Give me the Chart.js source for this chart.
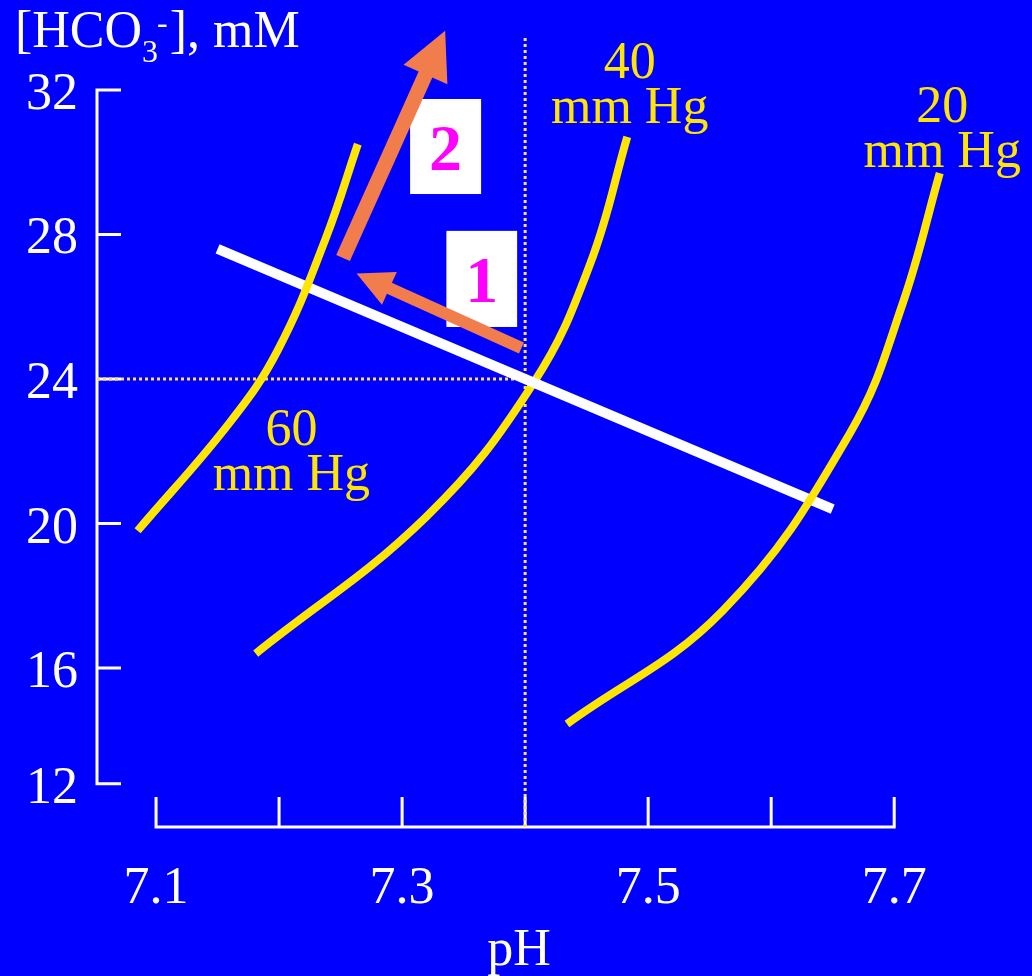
<!DOCTYPE html>
<html>
<head>
<meta charset="utf-8">
<script src="https://cdn.jsdelivr.net/npm/chart.js@4/dist/chart.umd.min.js"></script>
<style>
  html, body { margin: 0; padding: 0; background: #0000FF; overflow: hidden; }
  canvas { display: block; }
</style>
</head>
<body>
<canvas id="c" width="1032" height="976"></canvas>
<script>
// PCO2 isobars: pH (x) against plasma [HCO3-] in mM (y)
const iso60pH   = [7.085, 7.160, 7.199, 7.238, 7.264];
const iso60HCO3 = [19.8, 22.8, 24.8, 27.9, 30.5];
const iso40pH   = [7.181, 7.320, 7.407, 7.453, 7.483];
const iso40HCO3 = [16.4, 20.2, 23.9, 27.2, 30.7];
const iso20pH   = [7.434, 7.561, 7.664, 7.707, 7.737];
const iso20HCO3 = [14.45, 17.6, 22.5, 26.1, 29.7];

// Blood buffer line
const bufferPH   = [7.15, 7.65];
const bufferHCO3 = [27.6, 20.4];

// Normal point (pH 7.4, 24 mM)
const normalPH = 7.4;
const normalHCO3 = 24;

// Compensation steps: [tail pH, tail HCO3, tip pH, tip HCO3]
const step1 = [7.397, 24.86, 7.263, 26.92];
const step2 = [7.252, 27.35, 7.335, 33.64];
const stepLabels = ['1', '2'];
// label boxes: [left pH, right pH, top HCO3, bottom HCO3]
const step1Box = [7.336, 7.3935, 28.10, 25.44];
const step2Box = [7.3065, 7.3642, 31.75, 29.12];

// Isobar labels
const isoNames = ['60', '40', '20'];
const isoUnit = 'mm Hg';
const isoLabelPH   = [7.210, 7.485, 7.739];
const isoLabelHCO3 = [22.17, 32.33, 31.11];

// Axes
const xTicks = [7.1, 7.2, 7.3, 7.4, 7.5, 7.6, 7.7];
const xTickLabels = ['7.1', '', '7.3', '', '7.5', '', '7.7'];
const yTicks = [32, 28, 24, 20, 16, 12.8];
const yTickLabels = ['32', '28', '24', '20', '16', '12'];
const yAxisTop = 32;
const yAxisBottom = 12.8;
const xTitle = 'pH';

const PH_MIN = 7.052, PH_MAX = 7.812;
const HCO3_MIN = 11.6, HCO3_MAX = 34.49;
const dottedTop = 33.5;

const YELLOW = '#FFE600';
const DOT = '#FFE24A';
const ORANGE = '#F27D4C';
const SERIF = '"Liberation Serif", "Times New Roman", serif';

const pts = (xs, ys) => xs.map((x, i) => ({ x, y: ys[i] }));

const background = {
  id: 'background',
  beforeDraw(chart) {
    const c = chart.ctx;
    c.save();
    c.fillStyle = '#0000FF';
    c.fillRect(0, 0, chart.width, chart.height);
    c.restore();
  }
};

function drawArrow(c, x0, y0, x1, y1, shaft, headLen, headW) {
  const dx = x1 - x0, dy = y1 - y0;
  const len = Math.hypot(dx, dy);
  const ux = dx / len, uy = dy / len;
  const bx = x1 - ux * headLen, by = y1 - uy * headLen;
  const px = -uy, py = ux;
  c.fillStyle = ORANGE;
  c.beginPath();
  c.moveTo(x0 + px * shaft / 2, y0 + py * shaft / 2);
  c.lineTo(bx + px * shaft / 2, by + py * shaft / 2);
  c.lineTo(bx + px * headW / 2, by + py * headW / 2);
  c.lineTo(x1, y1);
  c.lineTo(bx - px * headW / 2, by - py * headW / 2);
  c.lineTo(bx - px * shaft / 2, by - py * shaft / 2);
  c.lineTo(x0 - px * shaft / 2, y0 - py * shaft / 2);
  c.closePath();
  c.fill();
}

const axesAndNotes = {
  id: 'axesAndNotes',
  beforeDatasetsDraw(chart) {
    const c = chart.ctx;
    const xs = chart.scales.x, ys = chart.scales.y;
    const ax = xs.getPixelForValue(PH_MIN);
    const ay = ys.getPixelForValue(HCO3_MIN);
    c.save();
    c.strokeStyle = '#FFFFFF';
    c.lineWidth = 3;
    c.lineCap = 'butt';
    // y axis with inward ticks
    c.beginPath();
    c.moveTo(ax, ys.getPixelForValue(yAxisTop) - 1.5);
    c.lineTo(ax, ys.getPixelForValue(yAxisBottom) + 1.5);
    yTicks.forEach(v => {
      const py = ys.getPixelForValue(v);
      c.moveTo(ax, py);
      c.lineTo(ax + 24, py);
    });
    // x axis with upward ticks
    const x0 = xs.getPixelForValue(xTicks[0]);
    const x1 = xs.getPixelForValue(xTicks[xTicks.length - 1]);
    c.moveTo(x0 - 1.5, ay);
    c.lineTo(x1 + 1.5, ay);
    xTicks.forEach(v => {
      const px = xs.getPixelForValue(v);
      c.moveTo(px, ay);
      c.lineTo(px, ay - 30);
    });
    c.stroke();

    c.fillStyle = '#FFFFFF';
    c.font = '52px ' + SERIF;
    c.textBaseline = 'alphabetic';
    c.textAlign = 'right';
    yTicks.forEach((v, i) => {
      c.fillText(yTickLabels[i], ax - 19, ys.getPixelForValue(v) + 19);
    });
    c.textAlign = 'center';
    xTicks.forEach((v, i) => {
      if (xTickLabels[i]) c.fillText(xTickLabels[i], xs.getPixelForValue(v), ay + 76);
    });
    c.fillText(xTitle, (x0 + x1) / 2 - 6, ay + 138);

    // y title: [HCO3-], mM
    c.textAlign = 'left';
    let tx = 15;
    const base = 47;
    c.font = '52px ' + SERIF;
    c.fillText('[HCO', tx, base);
    tx += c.measureText('[HCO').width;
    c.font = '32px ' + SERIF;
    c.fillText('3', tx, base + 15);
    const w3 = c.measureText('3').width;
    c.fillText('-', tx + w3 - 1, base - 14);
    tx += w3 + c.measureText('-').width + 1;
    c.font = '52px ' + SERIF;
    c.fillText('], mM', tx, base);
    c.restore();
  },
  afterDatasetsDraw(chart) {
    const c = chart.ctx;
    const xs = chart.scales.x, ys = chart.scales.y;
    c.save();
    // isobar labels
    c.fillStyle = YELLOW;
    c.font = '52px ' + SERIF;
    c.textAlign = 'center';
    c.textBaseline = 'alphabetic';
    isoNames.forEach((n, i) => {
      const px = xs.getPixelForValue(isoLabelPH[i]);
      const py = ys.getPixelForValue(isoLabelHCO3[i]);
      c.fillText(n, px, py);
      c.fillText(isoUnit, px, py + 45);
    });

    // numbered boxes
    [step1Box, step2Box].forEach((b, i) => {
      const l = xs.getPixelForValue(b[0]), r = xs.getPixelForValue(b[1]);
      const t = ys.getPixelForValue(b[2]), btm = ys.getPixelForValue(b[3]);
      c.fillStyle = '#FFFFFF';
      c.fillRect(l, t, r - l, btm - t);
      c.fillStyle = '#FF00FF';
      c.font = '700 66px ' + SERIF;
      c.fillText(stepLabels[i], (l + r) / 2, (t + btm) / 2 + 23);
    });

    // arrows
    drawArrow(c,
      xs.getPixelForValue(step1[0]), ys.getPixelForValue(step1[1]),
      xs.getPixelForValue(step1[2]), ys.getPixelForValue(step1[3]), 12, 36, 36);
    drawArrow(c,
      xs.getPixelForValue(step2[0]), ys.getPixelForValue(step2[1]),
      xs.getPixelForValue(step2[2]), ys.getPixelForValue(step2[3]), 15, 48, 48);
    c.restore();
  }
};

const curveStyle = {
  showLine: true,
  borderColor: YELLOW,
  borderWidth: 8,
  borderCapStyle: 'butt',
  tension: 0.4,
  pointRadius: 0,
  fill: false
};

new Chart(document.getElementById('c'), {
  type: 'scatter',
  data: {
    datasets: [
      Object.assign({ label: '60 mm Hg', data: pts(iso60pH, iso60HCO3), order: 2 }, curveStyle),
      Object.assign({ label: '20 mm Hg', data: pts(iso20pH, iso20HCO3), order: 2 }, curveStyle),
      {
        label: 'buffer line', data: pts(bufferPH, bufferHCO3), order: 3,
        showLine: true, borderColor: '#FFFFFF', borderWidth: 10, borderCapStyle: 'butt', pointRadius: 0
      },
      Object.assign({ label: '40 mm Hg', data: pts(iso40pH, iso40HCO3), order: 4 }, curveStyle),
      {
        label: 'pH 7.4', data: [{ x: normalPH, y: HCO3_MIN }, { x: normalPH, y: dottedTop }], order: 5,
        showLine: true, borderColor: DOT, borderWidth: 3, borderDash: [3, 3], borderCapStyle: 'butt', pointRadius: 0
      },
      {
        label: '24 mM', data: [{ x: PH_MIN, y: normalHCO3 }, { x: normalPH, y: normalHCO3 }], order: 5,
        showLine: true, borderColor: DOT, borderWidth: 3, borderDash: [3, 3], borderCapStyle: 'butt', pointRadius: 0
      }
    ]
  },
  options: {
    responsive: false,
    animation: false,
    devicePixelRatio: 1,
    layout: { padding: { left: 97, right: 0, top: 0, bottom: 149 } },
    scales: {
      x: { type: 'linear', min: PH_MIN, max: PH_MAX, display: false },
      y: { type: 'linear', min: HCO3_MIN, max: HCO3_MAX, display: false }
    },
    plugins: { legend: { display: false }, tooltip: { enabled: false } },
    events: []
  },
  plugins: [background, axesAndNotes]
});
</script>
</body>
</html>
